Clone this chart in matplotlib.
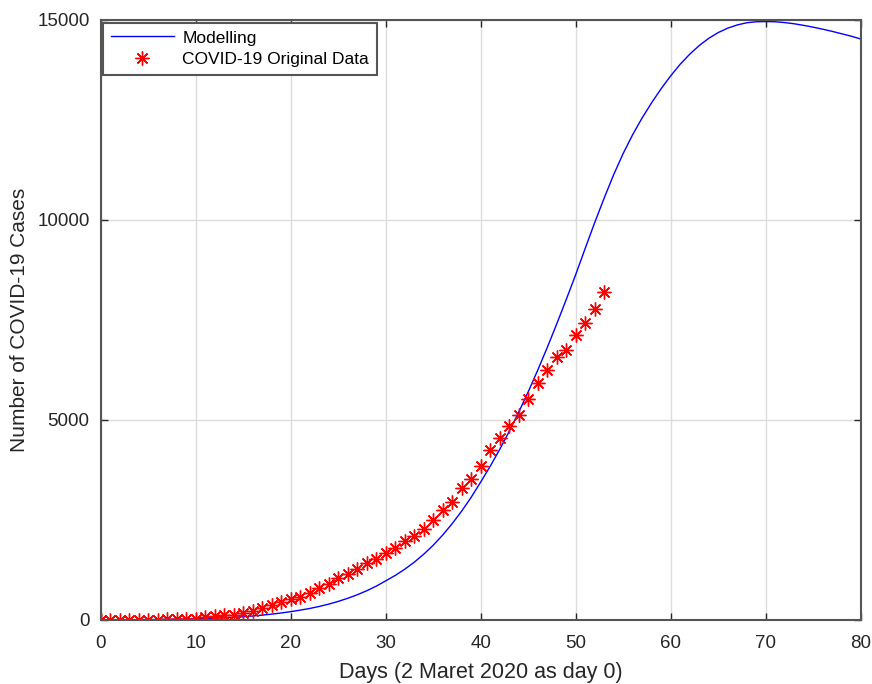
import numpy as np
import matplotlib
matplotlib.use("Agg")
import matplotlib.pyplot as plt

# model curve (one value per day)
model_days = np.arange(0, 81)
model_cases = [2, 3, 4, 6, 8, 10, 13, 16, 20, 25,
               30, 37, 45, 55, 67, 82, 100, 121, 146, 175,
               208, 246, 288, 338, 396, 464, 542, 630, 730, 845,
               978, 1113, 1268, 1443, 1643, 1868, 2123, 2408, 2723, 3068,
               3448, 3843, 4263, 4713, 5193, 5703, 6243, 6808, 7398, 8008,
               8633, 9288, 9933, 10548, 11133, 11663, 12133, 12553, 12933, 13283,
               13603, 13893, 14143, 14360, 14540, 14685, 14795, 14875, 14930, 14955,
               14960, 14955, 14935, 14905, 14865, 14820, 14770, 14715, 14655, 14595,
               14525]

# original data (day 0 = 2 March 2020)
data_cases = [2, 2, 2, 2, 4, 4, 6, 19, 27, 34, 34, 69, 96, 117, 134, 172, 227, 309, 369, 450,
              514, 579, 686, 790, 893, 1046, 1155, 1285, 1414, 1528, 1677, 1790, 1986, 2092, 2273,
              2491, 2738, 2956, 3293, 3512, 3842, 4241, 4557, 4839, 5136, 5516, 5923, 6248, 6575,
              6760, 7135, 7418, 7775, 8211]
data_days = np.arange(len(data_cases))

plt.rcParams['font.family'] = ['Liberation Sans', 'DejaVu Sans']

fig = plt.figure(figsize=(8.72, 6.84), dpi=100)
ax = fig.add_axes([0.1155, 0.0936, 0.8715, 0.8772])

ax.plot(model_days, model_cases, color='#0000ff', linewidth=1.0, label='Modelling')
ax.plot(data_days, data_cases, linestyle='', marker=(8, 2, 0), markersize=10,
        markeredgewidth=1.0, color='red', label='COVID-19 Original Data')

ax.set_xlim(0, 80)
ax.set_ylim(0, 15000)
ax.set_xticks(np.arange(0, 81, 10))
ax.set_yticks([0, 5000, 10000, 15000])
ax.grid(True, color='#dcdcdc', linewidth=1.0)
ax.set_axisbelow(True)
ax.tick_params(direction='in', top=True, right=True, length=5, width=1,
               colors='#262626', labelsize=13.5, pad=8)
ax.tick_params(axis='x', pad=11)
for s in ax.spines.values():
    s.set_color('#555555')
    s.set_linewidth(1.5)

ax.set_xlabel('Days (2 Maret 2020 as day 0)', fontsize=15.5, color='#262626', labelpad=7)
ax.set_ylabel('Number of COVID-19 Cases', fontsize=15, color='#262626', labelpad=6)

leg = ax.legend(loc='upper left', fontsize=12.5, fancybox=False, framealpha=1,
                borderaxespad=0.15, handlelength=3.6, handletextpad=0.5,
                borderpad=0.45, labelspacing=0.35)
leg.get_frame().set_edgecolor('#555555')
leg.get_frame().set_linewidth(1.5)

fig.savefig('out.png', dpi=100)
